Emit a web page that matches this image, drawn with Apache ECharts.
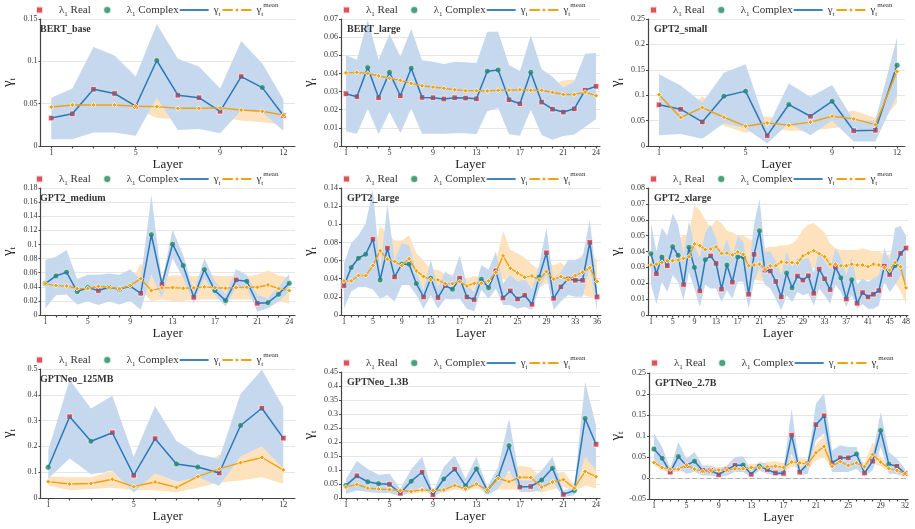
<!DOCTYPE html>
<html>
<head>
<meta charset="utf-8">
<script src="https://cdn.jsdelivr.net/npm/echarts@6/dist/echarts.min.js"></script>
<style>
  html, body { margin: 0; padding: 0; background: #fff; }
  #main { width: 915px; height: 529px; }
</style>
</head>
<body>
<div id="main"></div>
<script>
// tick labels on the layer axis
var ticks12 = [1, 5, 9, 12];
var ticks24 = [1, 5, 9, 13, 17, 21, 24];
var ticks32 = [1, 5, 9, 13, 17, 21, 25, 29, 32];
var ticks36 = [1, 5, 9, 13, 17, 21, 25, 29, 33, 36];
var ticks48 = [1, 5, 9, 13, 17, 21, 25, 29, 33, 37, 41, 45, 48];

// R = lambda_1 real, C = lambda_1 complex
var bertBaseGamma = [0.033,0.038,0.067,0.062,0.047,0.101,0.060,0.057,0.041,0.082,0.069,0.036];
var bertBaseKind  = "RRRRRCRRRRCR";
var bertBaseLo    = [0.008,0.008,0.016,0.016,0.012,0.057,0.019,0.020,0.015,0.042,0.040,0.018];
var bertBaseHi    = [0.057,0.068,0.117,0.107,0.082,0.144,0.103,0.094,0.068,0.124,0.0975,0.055];
var bertBaseMean  = [0.046,0.0485,0.0485,0.0485,0.047,0.0465,0.0445,0.0445,0.045,0.0425,0.041,0.0365];
var bertBaseMLo   = [0.044,0.047,0.047,0.047,0.045,0.033,0.032,0.031,0.034,0.030,0.028,0.025];
var bertBaseMHi   = [0.048,0.050,0.050,0.050,0.048,0.057,0.046,0.046,0.047,0.044,0.042,0.038];

var bertLargeGamma = [0.0288,0.0272,0.0432,0.0266,0.0406,0.0277,0.0429,0.0268,0.0266,0.0259,0.0266,0.0264,0.026,0.0412,0.0419,0.0255,0.0233,0.0406,0.0242,0.0203,0.0187,0.0205,0.0308,0.0329];
var bertLargeKind  = "RRCRCRCRRRRRRCCRRCRRRRRR";
var bertLargeLo    = [0.008,0.0068,0.0205,0.0065,0.0187,0.0072,0.0207,0.0068,0.0068,0.0068,0.007,0.007,0.0065,0.0192,0.021,0.0065,0.0057,0.020,0.006,0.0035,0.0055,0.0063,0.0105,0.0148];
var bertLargeHi    = [0.050,0.0475,0.0696,0.0475,0.0617,0.0493,0.0645,0.0473,0.0465,0.0452,0.0464,0.0462,0.0458,0.063,0.063,0.0447,0.0414,0.0608,0.0423,0.0382,0.0323,0.0356,0.0508,0.0512];
var bertLargeMean  = [0.0403,0.0406,0.040,0.0386,0.0373,0.0362,0.0345,0.0332,0.0325,0.0318,0.031,0.0305,0.0305,0.0303,0.0307,0.0308,0.031,0.0307,0.0307,0.0296,0.0284,0.0284,0.0297,0.0277];
var bertLargeMLo   = [0.0395,0.0398,0.0392,0.0378,0.0365,0.0354,0.0337,0.0324,0.0317,0.031,0.0302,0.0297,0.0297,0.0295,0.0299,0.03,0.0302,0.0299,0.0299,0.0288,0.0276,0.0276,0.0289,0.0269];
var bertLargeMHi   = [0.0411,0.0414,0.0408,0.0394,0.0381,0.037,0.0353,0.034,0.0333,0.0326,0.0318,0.0313,0.0313,0.0311,0.0315,0.0316,0.0318,0.0315,0.0315,0.0335,0.0362,0.0365,0.0305,0.0285];

var gpt2SmallGamma = [0.081,0.0724,0.0474,0.098,0.108,0.0204,0.0816,0.0586,0.088,0.030,0.031,0.159];
var gpt2SmallKind  = "RRRCCRCRCRRC";
var gpt2SmallLo    = [0.021,0.0237,0.0145,0.045,0.035,0.005,0.045,0.021,0.050,0.009,0.009,0.100];
var gpt2SmallHi    = [0.141,0.119,0.085,0.144,0.161,0.035,0.123,0.097,0.120,0.050,0.050,0.213];
var gpt2SmallMean  = [0.101,0.056,0.0757,0.0566,0.039,0.0454,0.041,0.047,0.0586,0.0533,0.042,0.147];
var gpt2SmallMLo   = [0.095,0.050,0.065,0.040,0.026,0.035,0.030,0.030,0.035,0.040,0.035,0.085];
var gpt2SmallMHi   = [0.105,0.060,0.098,0.060,0.055,0.058,0.050,0.050,0.062,0.070,0.055,0.150];

var gpt2MediumGamma = [0.0445,0.0554,0.0606,0.0332,0.0388,0.0346,0.0393,0.0365,0.041,0.0308,0.1137,0.0436,0.1004,0.070,0.0251,0.0644,0.0346,0.0204,0.0497,0.0478,0.0166,0.0175,0.0294,0.045];
var gpt2MediumKind  = "CCCCCRCCCRCRCCRCCCRCRCCC";
var gpt2MediumLo    = [0.0095,0.028,0.029,0.015,0.019,0.014,0.019,0.015,0.020,0.0076,0.057,0.024,0.080,0.052,0.0166,0.052,0.028,0.012,0.040,0.038,0.0047,0.0095,0.019,0.033];
var gpt2MediumHi    = [0.078,0.0824,0.092,0.051,0.057,0.057,0.0587,0.057,0.065,0.050,0.170,0.047,0.121,0.085,0.033,0.080,0.048,0.029,0.065,0.057,0.028,0.024,0.040,0.058];
var gpt2MediumMean  = [0.0445,0.0417,0.0412,0.0374,0.0374,0.0407,0.0393,0.037,0.0417,0.0516,0.0346,0.0384,0.0388,0.0379,0.0384,0.0398,0.0388,0.0379,0.0388,0.0393,0.0393,0.0426,0.0374,0.0346];
var gpt2MediumMLo   = [0.041,0.038,0.038,0.034,0.034,0.037,0.036,0.034,0.038,0.035,0.020,0.022,0.020,0.020,0.022,0.022,0.022,0.022,0.022,0.022,0.022,0.025,0.020,0.016];
var gpt2MediumMHi   = [0.048,0.045,0.045,0.041,0.041,0.044,0.043,0.040,0.045,0.073,0.055,0.054,0.056,0.056,0.055,0.056,0.056,0.055,0.056,0.055,0.057,0.063,0.056,0.053];

var gpt2LargeGamma = [0.0324,0.0523,0.0626,0.067,0.0836,0.0387,0.0737,0.042,0.056,0.056,0.0346,0.0199,0.0405,0.0192,0.0324,0.0284,0.0405,0.0199,0.017,0.0394,0.030,0.0486,0.0188,0.0265,0.0177,0.0217,0.0118,0.042,0.0685,0.0184,0.031,0.0398,0.0383,0.0383,0.080,0.0199];
var gpt2LargeKind  = "RCCCRCRRCCCRCRRCRRRCCRRRRRRCRRRRRRRR";
var gpt2LargeLo    = [0.007,0.026,0.031,0.031,0.028,0.018,0.022,0.015,0.033,0.033,0.022,0.007,0.022,0.007,0.018,0.017,0.018,0.007,0.004,0.028,0.018,0.029,0.011,0.011,0.007,0.009,0.0055,0.029,0.044,0.0055,0.015,0.022,0.020,0.020,0.053,0.004];
var gpt2LargeHi    = [0.057,0.079,0.088,0.101,0.138,0.050,0.122,0.061,0.079,0.077,0.048,0.028,0.061,0.031,0.048,0.042,0.066,0.033,0.026,0.055,0.050,0.070,0.035,0.044,0.037,0.039,0.029,0.055,0.096,0.037,0.048,0.061,0.061,0.064,0.105,0.033];
var gpt2LargeMean  = [0.0376,0.0376,0.0435,0.0435,0.0545,0.0707,0.0615,0.059,0.0545,0.062,0.0486,0.0424,0.0387,0.0387,0.0346,0.0346,0.0368,0.032,0.035,0.035,0.0376,0.0468,0.0652,0.0516,0.0464,0.0416,0.043,0.0387,0.0479,0.0394,0.0424,0.0387,0.0435,0.0472,0.052,0.0368];
var gpt2LargeMLo   = [0.034,0.033,0.036,0.033,0.030,0.045,0.040,0.045,0.045,0.045,0.035,0.030,0.030,0.030,0.028,0.028,0.028,0.025,0.028,0.027,0.030,0.035,0.040,0.035,0.034,0.031,0.030,0.030,0.035,0.030,0.030,0.030,0.025,0.022,0.020,0.018];
var gpt2LargeMHi   = [0.041,0.043,0.050,0.055,0.065,0.098,0.090,0.082,0.082,0.088,0.068,0.060,0.050,0.050,0.045,0.045,0.045,0.040,0.043,0.042,0.045,0.058,0.093,0.072,0.068,0.063,0.056,0.050,0.058,0.055,0.058,0.050,0.058,0.067,0.070,0.060];

var gpt2XlargeGamma = [0.0386,0.026,0.0365,0.031,0.043,0.0376,0.0192,0.0426,0.030,0.0152,0.0348,0.0372,0.0325,0.0163,0.0315,0.0207,0.0365,0.0365,0.0131,0.0382,0.053,0.0283,0.0277,0.0211,0.0114,0.0264,0.0171,0.0245,0.022,0.0247,0.0137,0.0289,0.0228,0.016,0.0302,0.0234,0.0101,0.0222,0.0074,0.0141,0.0114,0.0131,0.0154,0.0308,0.0255,0.0312,0.0388,0.0422];
var gpt2XlargeKind  = "CRCRCCRCCRCRRRCRCCRRCRRRRCCRRRRRRRRCRCRRRRRRRCRR";
var gpt2XlargeLo    = [0.019,0.007,0.021,0.0145,0.025,0.021,0.0093,0.027,0.0167,0.005,0.019,0.0167,0.0167,0.0082,0.0156,0.0103,0.021,0.021,0.004,0.021,0.0293,0.019,0.0167,0.0103,0.003,0.0125,0.0082,0.0145,0.0125,0.0135,0.006,0.0167,0.0125,0.007,0.019,0.0145,0.005,0.0125,0.004,0.007,0.004,0.004,0.006,0.021,0.0145,0.019,0.025,0.021];
var gpt2XlargeHi    = [0.058,0.040,0.055,0.050,0.064,0.057,0.038,0.059,0.044,0.036,0.052,0.057,0.048,0.038,0.048,0.036,0.050,0.046,0.029,0.057,0.073,0.040,0.040,0.034,0.025,0.040,0.030,0.036,0.035,0.036,0.027,0.040,0.034,0.029,0.042,0.036,0.025,0.036,0.019,0.023,0.021,0.023,0.025,0.042,0.034,0.055,0.056,0.050];
var gpt2XlargeMean  = [0.0315,0.032,0.0331,0.0342,0.0342,0.0346,0.0357,0.0367,0.0448,0.0437,0.0412,0.0416,0.0429,0.0388,0.039,0.0378,0.0397,0.0382,0.031,0.0315,0.032,0.0289,0.031,0.031,0.0334,0.033,0.033,0.0327,0.0372,0.039,0.0405,0.0386,0.0367,0.032,0.032,0.031,0.031,0.032,0.0315,0.0315,0.0304,0.032,0.0315,0.0298,0.0283,0.0331,0.0304,0.0171];
var gpt2XlargeMLo   = [0.028,0.028,0.029,0.028,0.028,0.027,0.026,0.027,0.030,0.028,0.027,0.025,0.026,0.026,0.026,0.026,0.026,0.025,0.022,0.022,0.022,0.020,0.020,0.022,0.024,0.024,0.024,0.024,0.027,0.028,0.030,0.028,0.026,0.024,0.024,0.023,0.022,0.022,0.022,0.022,0.022,0.022,0.022,0.020,0.018,0.020,0.015,0.007];
var gpt2XlargeMHi   = [0.035,0.037,0.040,0.042,0.045,0.048,0.050,0.052,0.069,0.066,0.060,0.055,0.060,0.058,0.053,0.052,0.050,0.050,0.048,0.047,0.045,0.042,0.043,0.043,0.044,0.044,0.045,0.048,0.054,0.057,0.058,0.055,0.052,0.045,0.042,0.041,0.041,0.041,0.041,0.042,0.041,0.040,0.040,0.038,0.038,0.045,0.047,0.030];

var neo125Gamma = [0.119,0.315,0.220,0.253,0.088,0.230,0.132,0.120,0.097,0.281,0.348,0.232];
var neo125Kind  = "CRCRRRCCRCRR";
var neo125Lo    = [0.076,0.153,0.092,0.106,0.021,0.096,0.063,0.080,0.047,0.160,0.200,0.115];
var neo125Hi    = [0.186,0.458,0.347,0.396,0.160,0.357,0.221,0.170,0.152,0.403,0.497,0.352];
var neo125Mean  = [0.0635,0.054,0.056,0.0725,0.044,0.062,0.041,0.083,0.113,0.137,0.157,0.109];
var neo125MLo   = [0.048,0.030,0.035,0.040,0.030,0.030,0.022,0.040,0.060,0.068,0.080,0.055];
var neo125MHi   = [0.083,0.080,0.080,0.105,0.062,0.100,0.060,0.110,0.168,0.160,0.200,0.120];

var neo13Gamma = [0.045,0.079,0.058,0.051,0.049,0.017,0.060,0.092,0.012,0.068,0.103,0.043,0.104,0.027,0.074,0.187,0.039,0.041,0.064,0.106,0.013,0.027,0.284,0.192];
var neo13Kind  = "CRCCRRCRRCRCCCCCRRCCRCCR";
var neo13Lo    = [0.015,0.027,0.021,0.018,0.018,0.006,0.021,0.039,0.004,0.027,0.051,0.021,0.051,0.010,0.033,0.099,0.021,0.021,0.027,0.057,0.004,0.010,0.147,0.099];
var neo13Hi    = [0.069,0.132,0.104,0.083,0.087,0.033,0.103,0.147,0.021,0.111,0.152,0.069,0.147,0.039,0.111,0.284,0.063,0.063,0.099,0.147,0.027,0.037,0.415,0.260];
var neo13Mean  = [0.039,0.049,0.035,0.032,0.030,0.027,0.023,0.029,0.027,0.029,0.045,0.032,0.050,0.029,0.070,0.058,0.074,0.073,0.039,0.057,0.066,0.035,0.095,0.076];
var neo13MLo   = [0.030,0.030,0.025,0.022,0.020,0.018,0.015,0.020,0.020,0.020,0.030,0.025,0.035,0.020,0.030,0.030,0.030,0.030,0.020,0.030,0.040,0.025,0.045,0.035];
var neo13MHi   = [0.050,0.060,0.045,0.040,0.038,0.035,0.030,0.035,0.033,0.038,0.060,0.040,0.065,0.040,0.080,0.090,0.115,0.110,0.070,0.085,0.095,0.045,0.155,0.130];

var neo27Gamma = [0.069,0.047,0.014,0.051,0.030,0.040,0.018,0.018,0.008,0.020,0.030,0.031,0.009,0.028,0.020,0.012,0.011,0.102,0.014,0.034,0.127,0.148,0.036,0.048,0.048,0.057,0.012,0.040,0.113,0.033,0.028,0.011];
var neo27Kind  = "CCRCRCRRRRRCRCRRRRRRRRRRRCRRCCRR";
var neo27Lo    = [0.042,0.026,0.006,0.022,0.010,0.014,0.006,0.006,0.0025,0.006,0.014,0.014,0.0025,0.017,0.010,0.006,0.006,0.058,0.006,0.010,0.090,0.106,0.014,0.014,0.014,0.022,0.004,0.018,0.074,0.010,0.010,0.004];
var neo27Hi    = [0.106,0.074,0.022,0.086,0.046,0.062,0.030,0.030,0.022,0.030,0.050,0.052,0.018,0.038,0.034,0.022,0.022,0.165,0.022,0.042,0.177,0.202,0.066,0.078,0.074,0.074,0.022,0.058,0.157,0.062,0.046,0.022];
var neo27Mean  = [0.037,0.025,0.021,0.021,0.031,0.021,0.016,0.018,0.019,0.019,0.022,0.022,0.025,0.024,0.027,0.028,0.025,0.038,0.036,0.033,0.060,0.075,0.028,0.039,0.030,0.036,0.027,0.056,0.038,0.023,0.018,0.011];
var neo27MLo   = [0.030,0.018,0.014,0.014,0.022,0.014,0.010,0.012,0.012,0.012,0.015,0.015,0.016,0.016,0.018,0.018,0.016,0.026,0.024,0.022,0.042,0.050,0.020,0.028,0.020,0.024,0.018,0.035,0.028,0.014,0.008,0.002];
var neo27MHi   = [0.045,0.032,0.028,0.028,0.040,0.028,0.024,0.024,0.026,0.026,0.030,0.030,0.034,0.034,0.038,0.040,0.036,0.050,0.048,0.045,0.080,0.100,0.040,0.050,0.042,0.048,0.036,0.085,0.050,0.034,0.028,0.020];

var panels = [
  {title: 'BERT_base',    gamma: bertBaseGamma,   kind: bertBaseKind,   lo: bertBaseLo,   hi: bertBaseHi,   mean: bertBaseMean,   mlo: bertBaseMLo,   mhi: bertBaseMHi,   ticks: ticks12, yMin: 0, yMax: 0.15, yStep: 0.05},
  {title: 'BERT_large',   gamma: bertLargeGamma,  kind: bertLargeKind,  lo: bertLargeLo,  hi: bertLargeHi,  mean: bertLargeMean,  mlo: bertLargeMLo,  mhi: bertLargeMHi,  ticks: ticks24, yMin: 0, yMax: 0.07, yStep: 0.01},
  {title: 'GPT2_small',   gamma: gpt2SmallGamma,  kind: gpt2SmallKind,  lo: gpt2SmallLo,  hi: gpt2SmallHi,  mean: gpt2SmallMean,  mlo: gpt2SmallMLo,  mhi: gpt2SmallMHi,  ticks: ticks12, yMin: 0, yMax: 0.25, yStep: 0.05},
  {title: 'GPT2_medium',  gamma: gpt2MediumGamma, kind: gpt2MediumKind, lo: gpt2MediumLo, hi: gpt2MediumHi, mean: gpt2MediumMean, mlo: gpt2MediumMLo, mhi: gpt2MediumMHi, ticks: ticks24, yMin: 0, yMax: 0.18, yStep: 0.02},
  {title: 'GPT2_large',   gamma: gpt2LargeGamma,  kind: gpt2LargeKind,  lo: gpt2LargeLo,  hi: gpt2LargeHi,  mean: gpt2LargeMean,  mlo: gpt2LargeMLo,  mhi: gpt2LargeMHi,  ticks: ticks36, yMin: 0, yMax: 0.14, yStep: 0.02},
  {title: 'GPT2_xlarge',  gamma: gpt2XlargeGamma, kind: gpt2XlargeKind, lo: gpt2XlargeLo, hi: gpt2XlargeHi, mean: gpt2XlargeMean, mlo: gpt2XlargeMLo, mhi: gpt2XlargeMHi, ticks: ticks48, yMin: 0, yMax: 0.08, yStep: 0.01},
  {title: 'GPTNeo_125MB', gamma: neo125Gamma,     kind: neo125Kind,     lo: neo125Lo,     hi: neo125Hi,     mean: neo125Mean,     mlo: neo125MLo,     mhi: neo125MHi,     ticks: ticks12, yMin: 0, yMax: 0.5,  yStep: 0.1},
  {title: 'GPTNeo_1.3B',  gamma: neo13Gamma,      kind: neo13Kind,      lo: neo13Lo,      hi: neo13Hi,      mean: neo13Mean,      mlo: neo13MLo,      mhi: neo13MHi,      ticks: ticks24, yMin: 0, yMax: 0.45, yStep: 0.05},
  {title: 'GPTNeo_2.7B',  gamma: neo27Gamma,      kind: neo27Kind,      lo: neo27Lo,      hi: neo27Hi,      mean: neo27Mean,      mlo: neo27MLo,      mhi: neo27MHi,      ticks: ticks32, yMin: -0.05, yMax: 0.25, yStep: 0.05}
];

// plot boxes (pixels) and layer-axis extents
var boxes = [
  {left: 34,  right: 620, top: 19,  bottom: 383, xMin: 0.49,  xMax: 12.55, legTop: 2},
  {left: 341, right: 315, top: 19,  bottom: 383, xMin: 0.54,  xMax: 24.37, legTop: 2},
  {left: 648, right: 10,  top: 19,  bottom: 383, xMin: 0.49,  xMax: 12.37, legTop: 2},
  {left: 34,  right: 620, top: 188, bottom: 214, xMin: 0.54,  xMax: 24.55, legTop: 171},
  {left: 341, right: 314, top: 188, bottom: 214, xMin: 0.585, xMax: 36.55, legTop: 171},
  {left: 648, right: 7,   top: 188, bottom: 214, xMin: 0.45,  xMax: 48.37, legTop: 171},
  {left: 34,  right: 620, top: 369, bottom: 31,  xMin: 0.635, xMax: 12.55, legTop: 352},
  {left: 341, right: 315, top: 372, bottom: 31,  xMin: 0.54,  xMax: 24.37, legTop: 355},
  {left: 649, right: 7,   top: 373, bottom: 30,  xMin: 0.38,  xMax: 32.37, legTop: 355}
];

var SERIF = '"Liberation Serif", "DejaVu Serif", serif';
var BLUE = '#2b78b7', ORANGE = '#f0a10e', RED = '#d62830', GREEN = '#1d8a5a';
var BLUE_BAND = '#c6d8ee', ORANGE_BAND = '#fee2be';
var N_REAL = 'λ1 Real', N_CPLX = 'λ1 Complex', N_G = 'γt', N_M = 'γt mean';
var legendText = {};
legendText[N_REAL] = '{g|λ}{s|1} Real';
legendText[N_CPLX] = '{g|λ}{s|1} Complex';
legendText[N_G] = '{g|γ}{s|t}';
legendText[N_M] = '{g|γ}{s|t}{p|mean}';

function pts(vals) {
  return vals.map(function (v, k) { return [k + 1, v]; });
}
function pick(p, code) {
  var out = [];
  p.gamma.forEach(function (v, k) { if (p.kind[k] === code) out.push([k + 1, v]); });
  return out;
}

var option = {animation: false, title: [], legend: [], grid: [], xAxis: [], yAxis: [], series: []};

panels.forEach(function (p, i) {
  var b = boxes[i];
  var layers = p.gamma.map(function (v, k) { return k + 1; });

  option.grid.push({left: b.left, right: b.right, top: b.top, bottom: b.bottom});
  option.title.push({
    text: p.title, left: b.left + 6, top: b.top + 5, padding: 0,
    textStyle: {fontFamily: SERIF, fontSize: 10, fontWeight: 'bold', color: '#333'}
  });
  option.legend.push({
    left: b.left - 10, top: b.legTop, padding: 0, itemWidth: 29, itemHeight: 8, itemGap: 1,
    selectedMode: false,
    data: [
      // the bounding points keep the marker centred in the icon box
      {name: N_REAL, icon: 'path://M0,0M29,8M11,0.5h7v7h-7z'},
      {name: N_CPLX, icon: 'path://M0,0M29,8M14.5,0A4,4,0,1,1,14.49,0z'},
      {name: N_G, icon: 'path://M0,0M29,8M0,3.1h29v1.8h-29z'},
      {name: N_M}
    ],
    formatter: function (name) { return legendText[name]; },
    textStyle: {
      fontFamily: SERIF, fontSize: 11, color: '#333',
      rich: {
        g: {fontFamily: SERIF, fontSize: 11, color: '#333', lineHeight: 16},
        s: {fontFamily: SERIF, fontSize: 7, color: '#333', verticalAlign: 'bottom'},
        p: {fontFamily: SERIF, fontSize: 7, color: '#333', verticalAlign: 'top'}
      }
    }
  });
  option.xAxis.push({
    type: 'value', gridIndex: i, min: b.xMin, max: b.xMax,
    name: 'Layer', nameLocation: 'middle', nameGap: 9,
    nameTextStyle: {fontFamily: SERIF, fontSize: 13, color: '#222'},
    axisLine: {show: true, onZero: false, lineStyle: {color: '#444', width: 1.2}},
    axisTick: {show: true, customValues: layers, length: 2.5, lineStyle: {color: '#444', width: 1.2}},
    axisLabel: {customValues: p.ticks, fontFamily: SERIF, fontSize: 8, color: '#333', margin: 3},
    splitLine: {show: false}
  });
  option.yAxis.push({
    type: 'value', gridIndex: i, min: p.yMin, max: p.yMax, interval: p.yStep,
    name: '{g|γ}{s|t}', nameLocation: 'middle', nameGap: 23, nameRotate: 90,
    nameTextStyle: {
      rich: {
        g: {fontFamily: SERIF, fontSize: 15, color: '#222', lineHeight: 18},
        s: {fontFamily: SERIF, fontSize: 9, color: '#222', verticalAlign: 'bottom'}
      }
    },
    axisLine: {show: true, lineStyle: {color: '#444', width: 1.2}},
    axisTick: {show: true, length: 2, lineStyle: {color: '#444'}},
    axisLabel: {fontFamily: SERIF, fontSize: 8, color: '#333', margin: 3},
    splitLine: {show: true, lineStyle: {color: '#e6e6e6', width: 1}}
  });

  var ax = {xAxisIndex: i, yAxisIndex: i};
  // shaded min/max band, drawn as one polygon through the axis scales
  function band(lo, hi, color, key) {
    option.series.push(Object.assign({
      type: 'custom', name: key, silent: true,
      data: lo.map(function (v, k) { return [k + 1, v, hi[k]]; }),
      encode: {x: 0, y: [1, 2]},
      renderItem: function (params, api) {
        if (params.dataIndex !== 0) return null;
        var upper = [], lower = [];
        for (var k = 0; k < lo.length; k++) {
          upper.push(api.coord([k + 1, hi[k]]));
          lower.unshift(api.coord([k + 1, lo[k]]));
        }
        return {type: 'polygon', shape: {points: upper.concat(lower)}, style: {fill: color}};
      }
    }, ax));
  }
  // mean band underneath, gamma band on top
  band(p.mlo, p.mhi, ORANGE_BAND, 'meanBand');
  band(p.lo, p.hi, BLUE_BAND, 'gammaBand');

  var gLine = Object.assign({
    type: 'line', name: N_G, data: pts(p.gamma), symbol: 'none',
    lineStyle: {color: BLUE, width: 1.5}, itemStyle: {color: BLUE}
  }, ax);
  if (p.yMin < 0) {
    gLine.markLine = {
      silent: true, symbol: 'none', label: {show: false},
      lineStyle: {color: '#b0b0b0', type: 'dashed', width: 1.2},
      data: [{yAxis: 0}]
    };
  }
  option.series.push(gLine);
  option.series.push(Object.assign({
    type: 'line', name: N_M, data: pts(p.mean), symbol: 'diamond', symbolSize: 5, showSymbol: true,
    lineStyle: {color: ORANGE, width: 1.4},
    itemStyle: {color: ORANGE, borderColor: '#fff', borderWidth: 0.8}
  }, ax));
  option.series.push(Object.assign({
    type: 'scatter', name: N_REAL, data: pick(p, 'R'), symbol: 'rect', symbolSize: 5.5,
    itemStyle: {color: RED, borderColor: '#fff', borderWidth: 0.8}
  }, ax));
  option.series.push(Object.assign({
    type: 'scatter', name: N_CPLX, data: pick(p, 'C'), symbol: 'circle', symbolSize: 6,
    itemStyle: {color: GREEN, borderColor: '#fff', borderWidth: 0.8}
  }, ax));
});

var myChart = echarts.init(document.getElementById('main'));
myChart.setOption(option);
</script>
</body>
</html>
